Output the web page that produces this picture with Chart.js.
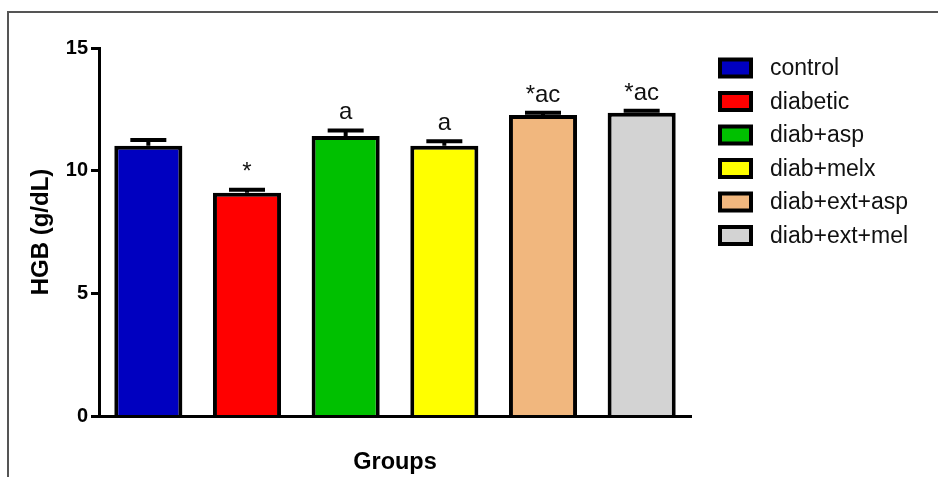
<!DOCTYPE html>
<html>
<head>
<meta charset="utf-8">
<title>HGB</title>
<script src="https://cdn.jsdelivr.net/npm/chart.js@4.4.1/dist/chart.umd.min.js"></script>
<style>
    html, body { margin: 0; padding: 0; background: #fff; }
    #wrap { position: relative; width: 938px; height: 477px; overflow: hidden; }
    #frame { position: absolute; left: 7px; top: 11px; width: 1000px; height: 600px;
             border-top: 2px solid #555; border-left: 2px solid #555; }
    #grafico { position: absolute; left: 0; top: 0; }
</style>
</head>
<body>
<div id="wrap">
    <div id="frame"></div>
    <canvas id="grafico" width="938" height="477"></canvas>
</div>
<script>
// dados: media e erro padrao de cada grupo
var grupos = ["control", "diabetic", "diab+asp", "diab+melx", "diab+ext+asp", "diab+ext+mel"];
var medias = [11.02, 9.10, 11.41, 11.02, 12.27, 12.36];
var erros = [0.23, 0.12, 0.23, 0.18, 0.09, 0.08];
var letras = ["", "*", "a", "a", "*ac", "*ac"];
var cores = ["#0000c0", "#ff0000", "#00c000", "#ffff00", "#f1b77e", "#d3d3d3"];
var ticksY = [0, 5, 10, 15];

var fonte = "Arial, 'Liberation Sans', sans-serif";

// barras de erro, letras de significancia e legenda
var extras = {
    id: "extras",
    afterDatasetsDraw: function(chart) {
        var ctx = chart.ctx;
        var y = chart.scales.y;
        var barras = chart.getDatasetMeta(0).data;
        ctx.save();
        ctx.strokeStyle = "#000";
        ctx.lineWidth = 4;
        ctx.lineCap = "butt";
        for (var i = 0; i < medias.length; i++) {
            var x = barras[i].x;
            var topo = y.getPixelForValue(medias[i] + erros[i]);
            var base = y.getPixelForValue(medias[i]);
            ctx.beginPath();
            ctx.moveTo(x, base);
            ctx.lineTo(x, topo);
            ctx.moveTo(x - 18, topo);
            ctx.lineTo(x + 18, topo);
            ctx.stroke();

            if (letras[i]) {
                ctx.fillStyle = "#111";
                ctx.font = "24px " + fonte;
                ctx.textAlign = "center";
                ctx.textBaseline = "alphabetic";
                ctx.fillText(letras[i], x, topo - 11);
            }
        }

        // legenda
        ctx.font = "23px " + fonte;
        ctx.textAlign = "left";
        ctx.textBaseline = "middle";
        for (var j = 0; j < grupos.length; j++) {
            var cy = 68 + j * 33.5;
            ctx.fillStyle = "#000";
            ctx.fillRect(718, cy - 10.5, 35, 21);
            ctx.fillStyle = cores[j];
            ctx.fillRect(722, cy - 6.5, 27, 13);
            ctx.fillStyle = "#111";
            ctx.fillText(grupos[j], 770, cy + 1);
        }
        ctx.restore();
    }
};

var ctx = document.getElementById("grafico");
var grafico = new Chart(ctx, {
    type: "bar",
    data: {
        labels: grupos,
        datasets: [{
            data: medias,
            backgroundColor: cores,
            borderColor: "#000",
            borderWidth: 4,
            borderSkipped: "start",
            barPercentage: 0.69,
            categoryPercentage: 1
        }]
    },
    options: {
        responsive: false,
        animation: false,
        layout: { padding: { left: 0, top: 48, right: 247, bottom: 0 } },
        plugins: {
            legend: { display: false },
            tooltip: { enabled: false }
        },
        scales: {
            x: {
                grid: { display: false },
                border: { display: true, color: "#000", width: 3, z: 1 },
                ticks: { display: false },
                title: {
                    display: true,
                    text: "Groups",
                    color: "#000",
                    font: { family: fonte, size: 23.5, weight: "bold" },
                    padding: { top: 0, bottom: 0 }
                },
                afterFit: function(scale) { scale.height = 61; }
            },
            y: {
                min: 0,
                max: 15,
                afterBuildTicks: function(scale) {
                    scale.ticks = ticksY.map(function(v) { return { value: v }; });
                },
                grid: {
                    drawOnChartArea: false,
                    drawTicks: true,
                    tickLength: 8,
                    tickWidth: 3,
                    tickColor: "#000"
                },
                border: { display: true, color: "#000", width: 3 },
                ticks: {
                    color: "#000",
                    padding: 3,
                    font: { family: fonte, size: 20, weight: "bold" }
                },
                title: {
                    display: true,
                    text: "HGB (g/dL)",
                    color: "#000",
                    font: { family: fonte, size: 24, weight: "bold" },
                    padding: { top: 27, bottom: 0 }
                },
                afterFit: function(scale) { scale.width = 99; }
            }
        }
    },
    plugins: [extras]
});
</script>
</body>
</html>
